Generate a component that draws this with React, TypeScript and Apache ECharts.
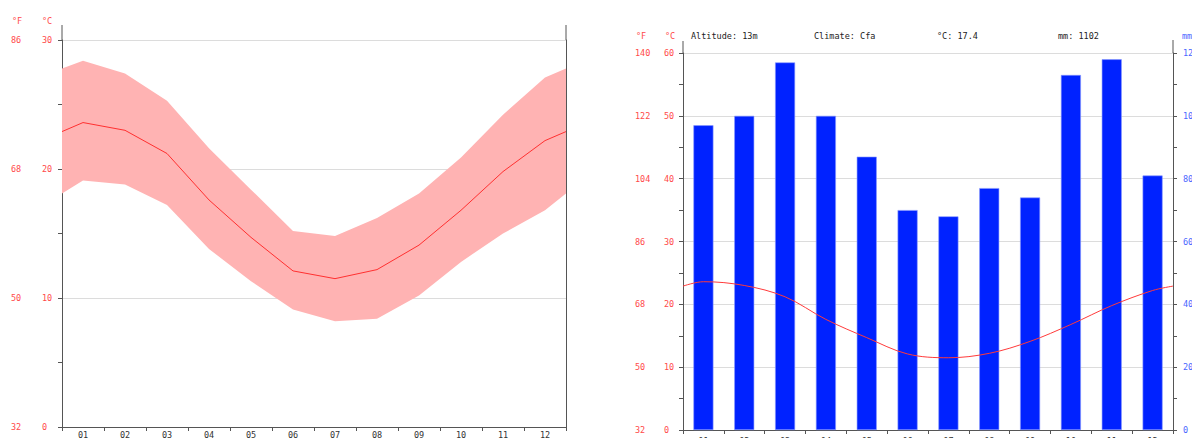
import React, { useEffect, useRef } from "react";
import * as echarts from "echarts";

const months = ["01", "02", "03", "04", "05", "06", "07", "08", "09", "10", "11", "12"];
const tempMean = [23.6, 23.0, 21.2, 17.6, 14.7, 12.1, 11.5, 12.2, 14.1, 16.8, 19.8, 22.2];
const tempMax = [28.4, 27.4, 25.3, 21.6, 18.4, 15.2, 14.8, 16.2, 18.1, 20.9, 24.2, 27.1];
const tempMin = [19.1, 18.8, 17.2, 13.8, 11.3, 9.1, 8.2, 8.4, 10.2, 12.8, 15.0, 16.8];
// values read at the left/right edges of the plots (year wrap)
const edgeMean = 22.9;
const edgeMax = 27.8;
const edgeMin = 18.1;
const precip = [97, 100, 117, 100, 87, 70, 68, 77, 74, 113, 118, 81];
const headerTexts = ["Altitude: 13m", "Climate: Cfa", "°C: 17.4", "mm: 1102"];
const celsiusLabelsLeft = [0, 30, 10];
const fahrenheitLeft = [32, 86, 18];
const celsiusLabelsRight = [0, 60, 10];
const fahrenheitRight = [32, 140, 18];
const mmAxis = [0, 120, 20];

const FONT = "DejaVu Sans Mono";
const FS = 8.5;
const RED = "#ff4a4a";
const BLUE = "#4a66ff";
const AXIS = "#555555";
const GRIDC = "#dcdcdc";

function withEdges(vals: number[], edge: number): number[][] {
  const out: number[][] = [[0, edge]];
  vals.forEach((v, i) => out.push([i + 0.5, v]));
  out.push([12, edge]);
  return out;
}

export default function App() {
  const ref = useRef<HTMLDivElement>(null);
  useEffect(() => {
    if (!ref.current) return;
    const chart = echarts.init(ref.current, undefined, { renderer: "svg" });
    const labelStyle = (color: string) => ({ color, fontFamily: FONT, fontSize: FS });
    const upper = withEdges(tempMax, edgeMax);
    const lower = withEdges(tempMin, edgeMin);
    const bandData = upper.map((p, i) => [p[0], lower[i][1], p[1]]);
    const catAxis = (gridIndex: number, margin: number) => ({
      type: "category",
      gridIndex,
      data: months,
      boundaryGap: true,
      axisLine: { lineStyle: { color: AXIS } },
      axisTick: { show: true, length: 4, lineStyle: { color: AXIS } },
      axisLabel: { ...labelStyle("#333"), margin },
    });
    const valX = (gridIndex: number) => ({
      type: "value",
      gridIndex,
      min: 0,
      max: 12,
      show: false,
    });
    const txt = (x: number, y: number, text: string, fill: string, size = FS) => ({
      type: "text",
      x,
      y,
      style: { text, fill, font: `${size}px "${FONT}"`, align: "left", verticalAlign: "middle" },
    });
    const vline = (x: number, y1: number, y2: number) => ({
      type: "line",
      shape: { x1: x, y1, x2: x, y2 },
      style: { stroke: AXIS, lineWidth: 1 },
    });
    const option: any = {
      animation: false,
      grid: [
        { left: 62, top: 40, width: 504, height: 387, containLabel: false, outerBoundsMode: "none" },
        { left: 683, top: 53, width: 490, height: 377, containLabel: false, outerBoundsMode: "none" },
      ],
      xAxis: [catAxis(0, 3), valX(0), catAxis(1, 6), valX(1)],
      yAxis: [
        {
          type: "value",
          gridIndex: 0,
          min: celsiusLabelsLeft[0],
          max: celsiusLabelsLeft[1],
          interval: celsiusLabelsLeft[2],
          axisLine: { show: true, lineStyle: { color: AXIS } },
          axisTick: { show: true, length: 4, lineStyle: { color: AXIS } },
          minorTick: { show: true, splitNumber: 2, length: 4, lineStyle: { color: AXIS } },
          splitLine: { show: true, lineStyle: { color: GRIDC } },
          axisLabel: { ...labelStyle(RED), margin: 20, align: "left" },
        },
        {
          type: "value",
          gridIndex: 0,
          position: "left",
          offset: 43,
          min: fahrenheitLeft[0],
          max: fahrenheitLeft[1],
          interval: fahrenheitLeft[2],
          axisLine: { show: false },
          axisTick: { show: false },
          splitLine: { show: false },
          axisLabel: { ...labelStyle(RED), margin: 8, align: "left" },
        },
        {
          type: "value",
          gridIndex: 0,
          position: "right",
          min: 0,
          max: 30,
          axisLine: { show: true, lineStyle: { color: AXIS } },
          axisTick: { show: false },
          axisLabel: { show: false },
          splitLine: { show: false },
        },
        {
          type: "value",
          gridIndex: 1,
          min: celsiusLabelsRight[0],
          max: celsiusLabelsRight[1],
          interval: celsiusLabelsRight[2],
          axisLine: { show: true, lineStyle: { color: AXIS } },
          axisTick: { show: true, length: 4, lineStyle: { color: AXIS } },
          minorTick: { show: true, splitNumber: 2, length: 4, lineStyle: { color: AXIS } },
          splitLine: { show: true, lineStyle: { color: GRIDC } },
          axisLabel: { ...labelStyle(RED), margin: 19, align: "left" },
        },
        {
          type: "value",
          gridIndex: 1,
          position: "left",
          offset: 40,
          min: fahrenheitRight[0],
          max: fahrenheitRight[1],
          interval: fahrenheitRight[2],
          axisLine: { show: false },
          axisTick: { show: false },
          splitLine: { show: false },
          axisLabel: { ...labelStyle(RED), margin: 8, align: "left" },
        },
        {
          type: "value",
          gridIndex: 1,
          position: "right",
          min: mmAxis[0],
          max: mmAxis[1],
          interval: mmAxis[2],
          axisLine: { show: true, lineStyle: { color: AXIS } },
          axisTick: { show: true, length: 4, lineStyle: { color: AXIS } },
          minorTick: { show: true, splitNumber: 2, length: 4, lineStyle: { color: AXIS } },
          splitLine: { show: false },
          axisLabel: { ...labelStyle(BLUE), margin: 10 },
        },
      ],
      series: [
        {
          type: "custom",
          xAxisIndex: 1,
          yAxisIndex: 0,
          data: bandData,
          encode: { x: 0, y: [1, 2] },
          silent: true,
          renderItem: (params: any, api: any) => {
            if (params.dataIndex !== 0) return null;
            const pts: number[][] = [];
            bandData.forEach((d) => pts.push(api.coord([d[0], d[2]])));
            for (let i = bandData.length - 1; i >= 0; i--) {
              pts.push(api.coord([bandData[i][0], bandData[i][1]]));
            }
            return {
              type: "polygon",
              shape: { points: pts },
              style: { fill: "#ffb3b3", stroke: "none" },
            };
          },
        },
        {
          type: "line",
          xAxisIndex: 1,
          yAxisIndex: 0,
          data: withEdges(tempMean, edgeMean),
          symbol: "none",
          lineStyle: { color: "#ff3030", width: 1 },
          silent: true,
        },
        {
          type: "bar",
          xAxisIndex: 2,
          yAxisIndex: 5,
          data: precip,
          barWidth: 20,
          itemStyle: { color: "#0022ff", borderColor: "#8898ff", borderWidth: 0.6 },
          silent: true,
        },
        {
          type: "line",
          xAxisIndex: 3,
          yAxisIndex: 3,
          data: withEdges(tempMean, edgeMean),
          symbol: "none",
          smooth: 0.35,
          lineStyle: { color: "#ff3a3a", width: 1 },
          silent: true,
        },
      ],
      graphic: [
        vline(62, 25, 40),
        vline(566, 25, 40),
        vline(683, 41, 53),
        vline(1173, 40, 53),
        txt(12, 21, "°F", RED),
        txt(42, 21, "°C", RED),
        txt(636, 36, "°F", RED),
        txt(665, 36, "°C", RED),
        txt(1182, 36, "mm", BLUE),
        ...headerTexts.map((t, i) => txt([691, 814, 937, 1058][i], 36, t, "#222", FS)),
      ],
    };
    chart.setOption(option);
    return () => chart.dispose();
  }, []);
  return (
    <div
      ref={ref}
      style={{ position: "fixed", left: 0, top: 0, width: 1192, height: 438, background: "#fff" }}
    />
  );
}
